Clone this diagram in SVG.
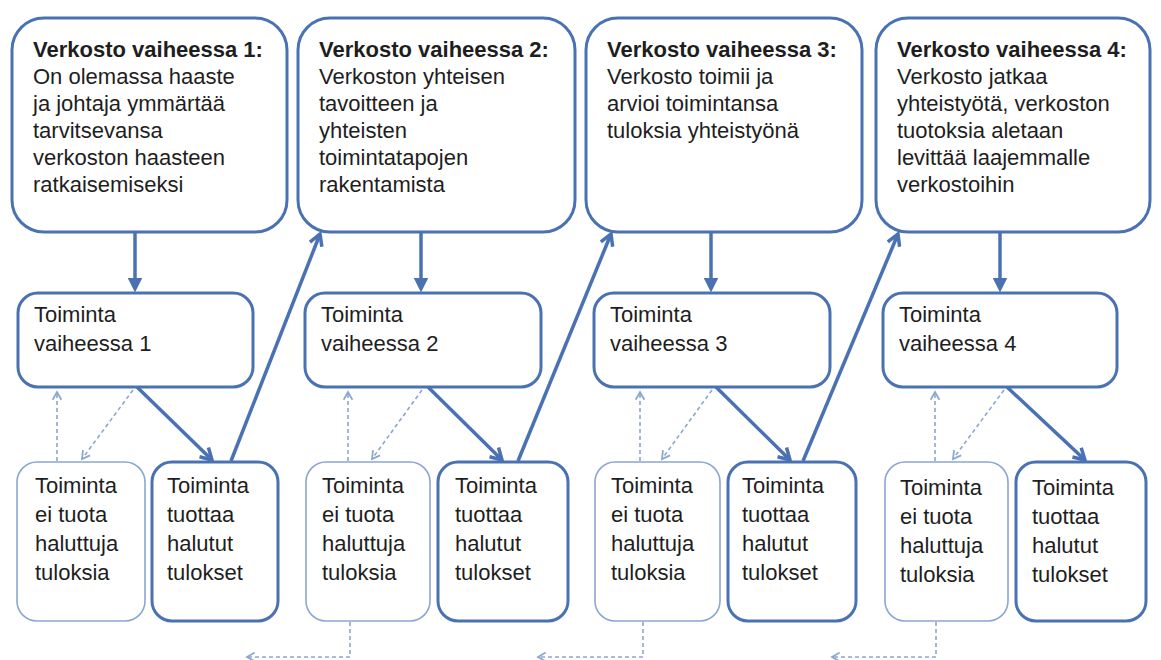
<svg xmlns="http://www.w3.org/2000/svg" width="1161" height="660" viewBox="0 0 1161 660">
<style>
  .box{fill:#ffffff;stroke:#4a72b2;stroke-width:3}
  .weak{fill:#ffffff;stroke:#8ca6d2;stroke-width:1.6}
  text{font-family:"Liberation Sans",Arial,sans-serif;font-size:22px;fill:#1e1e1e}
  .h{font-weight:bold}
  .solid{fill:none;stroke:#4a72b2;stroke-width:3.5}
  .dash{fill:none;stroke:#8ca6d2;stroke-width:1.6;stroke-dasharray:4 3}
</style>
<defs>
  <marker id="tri" viewBox="0 0 10 10" refX="7" refY="5" markerUnits="userSpaceOnUse" markerWidth="15" markerHeight="15" orient="auto">
    <path d="M0,0 L10,5 L0,10 z" fill="#4a72b2"/>
  </marker>
  <marker id="vee" viewBox="0 0 10 10" refX="8.5" refY="5" markerUnits="userSpaceOnUse" markerWidth="16" markerHeight="16" orient="auto">
    <path d="M1.5,1 L8.5,5 L1.5,9" fill="none" stroke="#4a72b2" stroke-width="2.2"/>
  </marker>
  <marker id="dvee" viewBox="0 0 10 10" refX="8.5" refY="5" markerUnits="userSpaceOnUse" markerWidth="11" markerHeight="11" orient="auto">
    <path d="M1.5,1 L8.5,5 L1.5,9" fill="none" stroke="#8ca6d2" stroke-width="1.6"/>
  </marker>
</defs>
<rect width="1161" height="660" fill="#ffffff"/>

<g id="connectors">
  <line class="solid" x1="135" y1="232" x2="135" y2="288" marker-end="url(#tri)"/>
  <line class="solid" x1="421" y1="232" x2="421" y2="288" marker-end="url(#tri)"/>
  <line class="solid" x1="711" y1="232" x2="711" y2="288" marker-end="url(#tri)"/>
  <line class="solid" x1="1000" y1="232" x2="1000" y2="288" marker-end="url(#tri)"/>

  <line class="solid" x1="137" y1="387" x2="212" y2="460" marker-end="url(#vee)"/>
  <line class="solid" x1="428" y1="387" x2="502" y2="460" marker-end="url(#vee)"/>
  <line class="solid" x1="716" y1="387" x2="790" y2="460" marker-end="url(#vee)"/>
  <line class="solid" x1="1007" y1="387" x2="1085" y2="460" marker-end="url(#vee)"/>

  <line class="solid" x1="231" y1="461" x2="320" y2="234" marker-end="url(#vee)"/>
  <line class="solid" x1="518" y1="461" x2="611" y2="234" marker-end="url(#vee)"/>
  <line class="solid" x1="803" y1="461" x2="898" y2="234" marker-end="url(#vee)"/>

  <line class="dash" x1="57" y1="461" x2="57" y2="392" marker-end="url(#dvee)"/>
  <line class="dash" x1="348" y1="461" x2="348" y2="392" marker-end="url(#dvee)"/>
  <line class="dash" x1="640" y1="461" x2="640" y2="392" marker-end="url(#dvee)"/>
  <line class="dash" x1="935" y1="461" x2="935" y2="392" marker-end="url(#dvee)"/>

  <line class="dash" x1="133" y1="390" x2="82" y2="459" marker-end="url(#dvee)"/>
  <line class="dash" x1="422" y1="390" x2="372" y2="459" marker-end="url(#dvee)"/>
  <line class="dash" x1="712" y1="390" x2="662" y2="459" marker-end="url(#dvee)"/>
  <line class="dash" x1="1004" y1="390" x2="953" y2="459" marker-end="url(#dvee)"/>

  <polyline class="dash" points="350,622 350,657 247,657" marker-end="url(#dvee)"/>
  <polyline class="dash" points="643,622 643,657 538,657" marker-end="url(#dvee)"/>
  <polyline class="dash" points="936,622 936,657 832,657" marker-end="url(#dvee)"/>
</g>

<g id="verkosto1">
  <rect class="box" x="12" y="18" width="275" height="214" rx="32"/>
  <text x="33" y="57" class="h">Verkosto vaiheessa 1:</text>
  <text x="33" y="84">On olemassa haaste</text>
  <text x="33" y="111">ja johtaja ymmärtää</text>
  <text x="33" y="138">tarvitsevansa</text>
  <text x="33" y="165">verkoston haasteen</text>
  <text x="33" y="192">ratkaisemiseksi</text>
</g>
<g id="verkosto2">
  <rect class="box" x="298" y="18" width="277" height="214" rx="32"/>
  <text x="319" y="57" class="h">Verkosto vaiheessa 2:</text>
  <text x="319" y="84">Verkoston yhteisen</text>
  <text x="319" y="111">tavoitteen ja</text>
  <text x="319" y="138">yhteisten</text>
  <text x="319" y="165">toimintatapojen</text>
  <text x="319" y="192">rakentamista</text>
</g>
<g id="verkosto3">
  <rect class="box" x="586" y="18" width="276" height="214" rx="32"/>
  <text x="607" y="57" class="h">Verkosto vaiheessa 3:</text>
  <text x="607" y="84">Verkosto toimii ja</text>
  <text x="607" y="111">arvioi toimintansa</text>
  <text x="607" y="138">tuloksia yhteistyönä</text>
</g>
<g id="verkosto4">
  <rect class="box" x="876" y="18" width="274" height="214" rx="32"/>
  <text x="897" y="57" class="h">Verkosto vaiheessa 4:</text>
  <text x="897" y="84">Verkosto jatkaa</text>
  <text x="897" y="111">yhteistyötä, verkoston</text>
  <text x="897" y="138">tuotoksia aletaan</text>
  <text x="897" y="165">levittää laajemmalle</text>
  <text x="897" y="192">verkostoihin</text>
</g>

<g id="toiminta1">
  <rect class="box" x="18" y="293" width="235" height="94" rx="20"/>
  <text x="34" y="322">Toiminta</text>
  <text x="34" y="351">vaiheessa 1</text>
</g>
<g id="toiminta2">
  <rect class="box" x="305" y="293" width="236" height="94" rx="20"/>
  <text x="321" y="322">Toiminta</text>
  <text x="321" y="351">vaiheessa 2</text>
</g>
<g id="toiminta3">
  <rect class="box" x="594" y="293" width="236" height="94" rx="20"/>
  <text x="610" y="322">Toiminta</text>
  <text x="610" y="351">vaiheessa 3</text>
</g>
<g id="toiminta4">
  <rect class="box" x="883" y="293" width="234" height="94" rx="20"/>
  <text x="899" y="322">Toiminta</text>
  <text x="899" y="351">vaiheessa 4</text>
</g>

<g id="ei1">
  <rect class="weak" x="17" y="462" width="128" height="159" rx="20"/>
  <text x="35" y="493">Toiminta</text>
  <text x="35" y="522">ei tuota</text>
  <text x="35" y="551">haluttuja</text>
  <text x="35" y="580">tuloksia</text>
</g>
<g id="tuottaa1">
  <rect class="box" x="152" y="462" width="126" height="159" rx="20"/>
  <text x="167" y="493">Toiminta</text>
  <text x="167" y="522">tuottaa</text>
  <text x="167" y="551">halutut</text>
  <text x="167" y="580">tulokset</text>
</g>
<g id="ei2">
  <rect class="weak" x="306" y="462" width="124" height="159" rx="20"/>
  <text x="322" y="493">Toiminta</text>
  <text x="322" y="522">ei tuota</text>
  <text x="322" y="551">haluttuja</text>
  <text x="322" y="580">tuloksia</text>
</g>
<g id="tuottaa2">
  <rect class="box" x="438" y="462" width="130" height="159" rx="20"/>
  <text x="455" y="493">Toiminta</text>
  <text x="455" y="522">tuottaa</text>
  <text x="455" y="551">halutut</text>
  <text x="455" y="580">tulokset</text>
</g>
<g id="ei3">
  <rect class="weak" x="595" y="462" width="125" height="159" rx="20"/>
  <text x="611" y="493">Toiminta</text>
  <text x="611" y="522">ei tuota</text>
  <text x="611" y="551">haluttuja</text>
  <text x="611" y="580">tuloksia</text>
</g>
<g id="tuottaa3">
  <rect class="box" x="728" y="462" width="128" height="159" rx="20"/>
  <text x="742" y="493">Toiminta</text>
  <text x="742" y="522">tuottaa</text>
  <text x="742" y="551">halutut</text>
  <text x="742" y="580">tulokset</text>
</g>
<g id="ei4">
  <rect class="weak" x="885" y="462" width="123" height="159" rx="20"/>
  <text x="900" y="495">Toiminta</text>
  <text x="900" y="524">ei tuota</text>
  <text x="900" y="553">haluttuja</text>
  <text x="900" y="582">tuloksia</text>
</g>
<g id="tuottaa4">
  <rect class="box" x="1016" y="462" width="130" height="159" rx="20"/>
  <text x="1032" y="495">Toiminta</text>
  <text x="1032" y="524">tuottaa</text>
  <text x="1032" y="553">halutut</text>
  <text x="1032" y="582">tulokset</text>
</g>
</svg>
